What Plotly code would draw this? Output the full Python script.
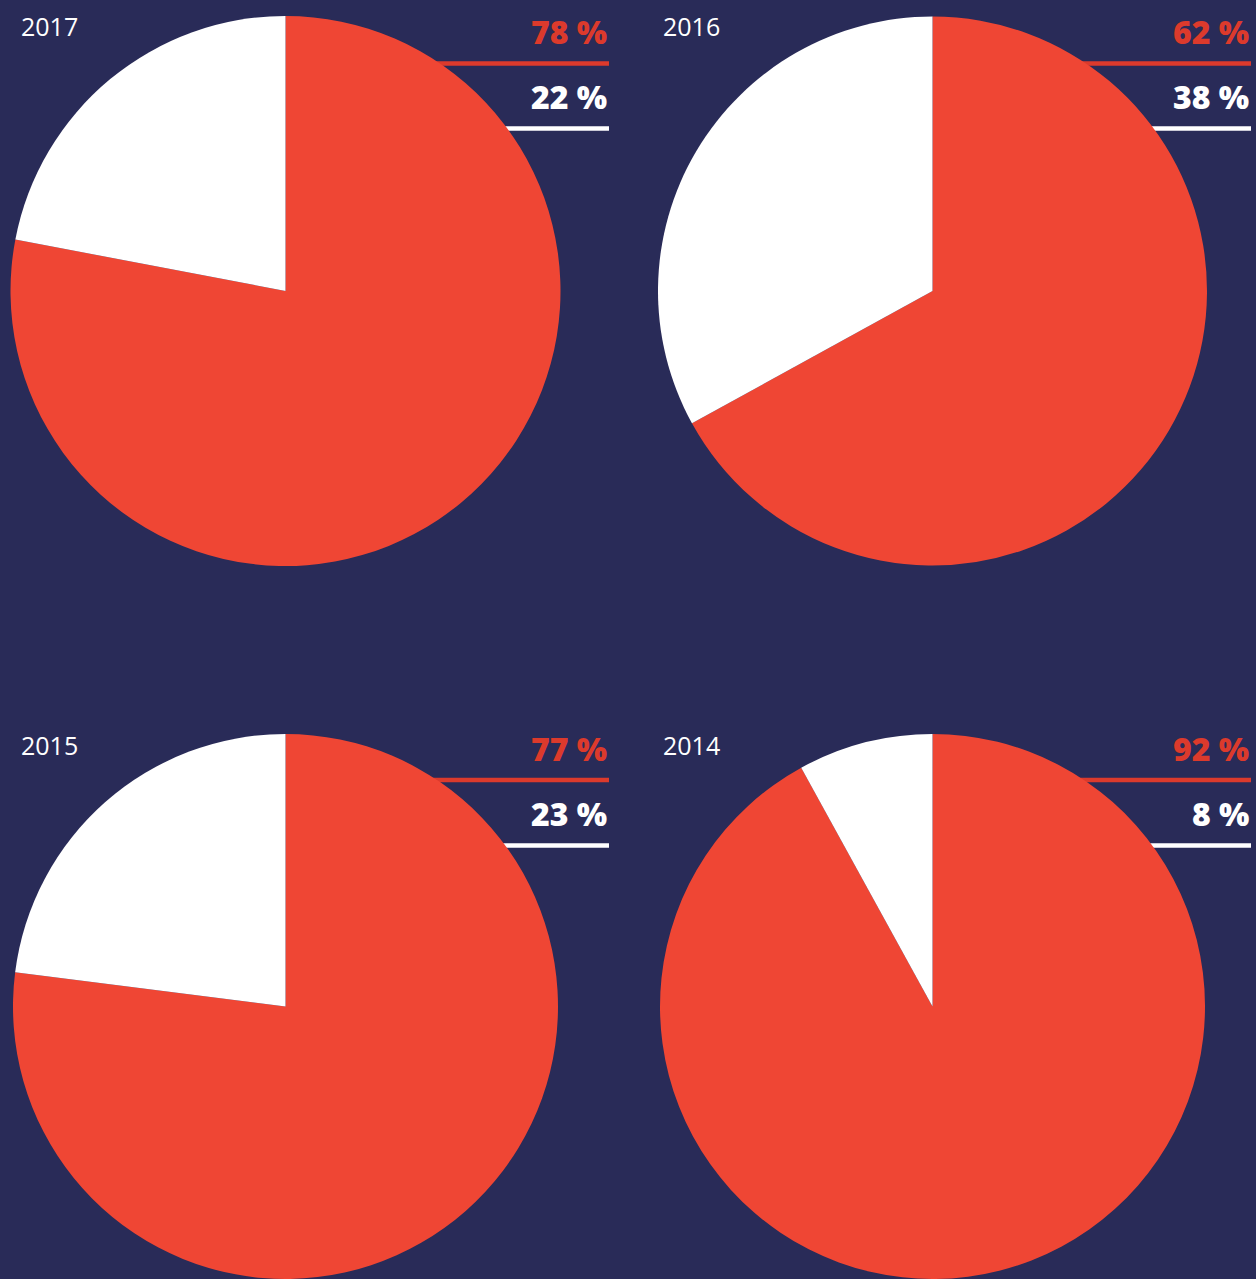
import plotly.graph_objects as go

W, H = 1256, 1279

years = ["2017", "2016", "2015", "2014"]
# slice shares as drawn in the picture (red, white)
red_share = [78, 67, 77, 92]
white_share = [22, 33, 23, 8]
# printed labels
red_labels = ["78 %", "62 %", "77 %", "92 %"]
white_labels = ["22 %", "38 %", "23 %", "8 %"]

BG = "#292B58"
RED = "#EF4634"
RED_TXT = "#DC3A2C"
WHITE = "#FFFFFF"

# pixel layout of each panel: (left, right, top, bottom) for the pie box
boxes = [(10, 561, 16, 566), (658, 1207, 16, 566), (11, 560, 734, 1279), (658, 1207, 734, 1279)]
year_pos = [(19, 26), (661, 26), (19, 745), (661, 745)]
label_right = [609, 1251, 609, 1251]
top_y = [31, 31, 748, 748]
bot_y = [96, 96, 813, 813]
rline_y = [63.5, 63.5, 780, 780]
wline_y = [128.5, 128.5, 845.5, 845.5]

def px(x):
    return x / W

def py(y):
    return 1 - y / H

LABEL_FONT = "Open Sans"

fig = go.Figure()
shapes = []
ann = []
for i in range(4):
    l, r, t, b = boxes[i]
    fig.add_trace(go.Pie(
        values=[red_share[i], white_share[i]],
        labels=["a", "b"],
        marker=dict(colors=[RED, WHITE], line=dict(width=0)),
        sort=False, direction="clockwise", rotation=0,
        textinfo="none", hoverinfo="skip", showlegend=False,
        domain=dict(x=[px(l), px(r)], y=[max(0, py(b)), py(t)]),
    ))
    xr = label_right[i]
    for yy, col in ((rline_y[i], RED_TXT), (wline_y[i], WHITE)):
        shapes.append(dict(type="line", xref="paper", yref="paper", layer="below",
                           x0=px(xr - 220), x1=px(xr), y0=py(yy), y1=py(yy),
                           line=dict(color=col, width=4.5)))
    ann.append(dict(text=red_labels[i], x=px(xr), y=py(top_y[i]), xref="paper", yref="paper",
                    xanchor="right", yanchor="middle", showarrow=False,
                    font=dict(family=LABEL_FONT, size=32, color=RED_TXT, weight=800)))
    ann.append(dict(text=white_labels[i], x=px(xr), y=py(bot_y[i]), xref="paper", yref="paper",
                    xanchor="right", yanchor="middle", showarrow=False,
                    font=dict(family=LABEL_FONT, size=32, color=WHITE, weight=800)))
    yx, yy = year_pos[i]
    ann.append(dict(text=years[i], x=px(yx), y=py(yy), xref="paper", yref="paper",
                    xanchor="left", yanchor="middle", showarrow=False,
                    font=dict(family="Open Sans", size=25, color=WHITE)))

fig.update_layout(
    width=W, height=H,
    margin=dict(l=0, r=0, t=0, b=0),
    paper_bgcolor=BG, plot_bgcolor=BG,
    shapes=shapes, annotations=ann,
)
fig.write_html("out.html")
